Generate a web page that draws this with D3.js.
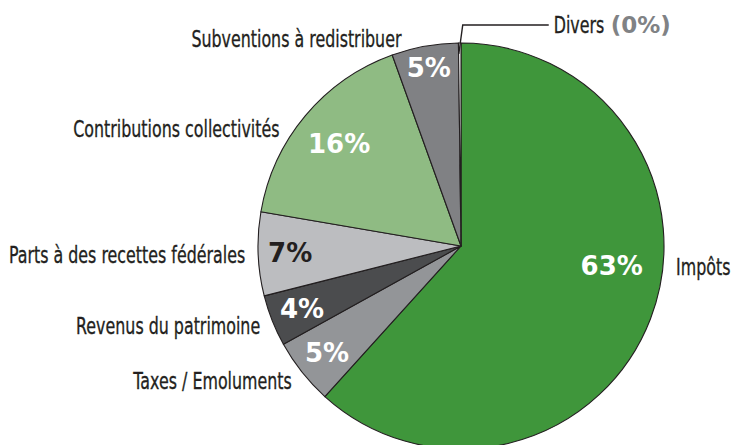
<!DOCTYPE html>
<html>
<head>
<meta charset="utf-8">
<script src="https://cdn.jsdelivr.net/npm/d3@7"></script>
<style>
  body { margin: 0; background: #fff; }
  svg { display: block; }
</style>
</head>
<body>
<div id="pie"></div>
<script>
// Recettes par source (%), clockwise from 12 o'clock
const categories = ["Impôts", "Taxes / Emoluments", "Revenus du patrimoine",
  "Parts à des recettes fédérales", "Contributions collectivités",
  "Subventions à redistribuer", "Divers"];
const shares = [61.7, 5.25, 4.1, 6.65, 16.8, 5.3, 0.2];
const pctLabels = ["63%", "5%", "4%", "7%", "16%", "5%", "0%"];
const colors = ["#3f963b", "#939598", "#4b4c4e", "#bcbdc0", "#8fbb83", "#808184", "#ffffff"];
const pctColors = ["#fff", "#fff", "#fff", "#231f20", "#fff", "#fff", "#808285"];

const svgWidth = 731;
const svgHeight = 445;
const cx = 461, cy = 246;
const radius = 203;
const squeeze = 0.69;   // narrow the label font to look like a condensed face

const svg = d3.select("#pie")
  .append("svg")
  .attr("width", svgWidth)
  .attr("height", svgHeight);

const g = svg.append("g")
  .attr("transform", `translate(${cx}, ${cy})`);

const data = categories.map((c, i) => ({cat: c, value: shares[i], pct: pctLabels[i], i: i}));

const pie = d3.pie()
  .sort(null)
  .value(d => d.value);

const arcs = pie(data);

const arc = d3.arc()
  .innerRadius(0)
  .outerRadius(radius);

// slices
g.selectAll("path.slice")
  .data(arcs)
  .enter()
  .append("path")
  .attr("class", "slice")
  .attr("d", arc)
  .attr("fill", d => colors[d.data.i])
  .attr("stroke", "#231f20")
  .attr("stroke-width", 1.1)
  .attr("stroke-linejoin", "round");

// helper: point at angle (radians from 12 o'clock) and radius
const pt = (a, r) => [Math.sin(a) * r, -Math.cos(a) * r];
const mid = d => (d.startAngle + d.endAngle) / 2;
const deg = Math.PI / 180;

// percentage labels inside slices (Divers is labelled outside)
const pctR = {"Impôts": 152, "Contributions collectivités": 159, "Subventions à redistribuer": 181};
const pctAngle = {"Impôts": 97.4 * deg};

g.selectAll("text.pct")
  .data(arcs.filter(d => d.data.cat !== "Divers"))
  .enter()
  .append("text")
  .attr("class", "pct")
  .attr("transform", d => {
    const a = pctAngle[d.data.cat] !== undefined ? pctAngle[d.data.cat] : mid(d);
    const p = pt(a, pctR[d.data.cat] || 171);
    return `translate(${p[0]}, ${p[1]})`;
  })
  .attr("text-anchor", "middle")
  .attr("dy", "0.36em")
  .style("font-family", "'DejaVu Sans', sans-serif")
  .style("font-weight", "bold")
  .style("font-size", "26px")
  .attr("fill", d => pctColors[d.data.i])
  .text(d => d.data.pct);

// category labels around the pie
const labelR = 216;
const labelAngle = {
  "Impôts": 95.5 * deg,
  "Contributions collectivités": 302.8 * deg,
  "Subventions à redistribuer": 344 * deg
};

g.selectAll("text.cat")
  .data(arcs.filter(d => d.data.cat !== "Divers"))
  .enter()
  .append("text")
  .attr("class", "cat")
  .attr("transform", d => {
    const a = labelAngle[d.data.cat] !== undefined ? labelAngle[d.data.cat] : mid(d);
    const p = pt(a, labelR);
    return `translate(${p[0]}, ${p[1]}) scale(${squeeze}, 1)`;
  })
  .attr("text-anchor", d => mid(d) < Math.PI ? "start" : "end")
  .attr("dy", "0.36em")
  .style("font-family", "'DejaVu Sans', sans-serif")
  .style("font-size", "23px")
  .attr("fill", "#231f20")
  .attr("stroke", "#231f20")
  .attr("stroke-width", 0.35)
  .text(d => d.data.cat);

// Divers: leader line + label
const divers = arcs.find(d => d.data.cat === "Divers");
const p0 = pt(mid(divers) - 0.3 * deg, 192);
const p1 = pt(0.45 * deg, 221);
const p2 = [p1[0] + 86, p1[1]];

g.append("path")
  .attr("d", d3.line()([p0, p1, p2]))
  .attr("fill", "none")
  .attr("stroke", "#231f20")
  .attr("stroke-width", 1.4);

g.append("text")
  .attr("transform", `translate(${p2[0] + 5}, ${p2[1]}) scale(${squeeze}, 1)`)
  .attr("dy", "0.36em")
  .style("font-family", "'DejaVu Sans', sans-serif")
  .style("font-size", "23px")
  .attr("fill", "#231f20")
  .attr("stroke", "#231f20")
  .attr("stroke-width", 0.35)
  .text(divers.data.cat);

g.append("text")
  .attr("x", p2[0] + 62)
  .attr("y", p2[1])
  .attr("dy", "0.36em")
  .style("font-family", "'DejaVu Sans', sans-serif")
  .style("font-weight", "bold")
  .style("font-size", "23px")
  .attr("fill", pctColors[divers.data.i])
  .text(`(${divers.data.pct})`);
</script>
</body>
</html>
